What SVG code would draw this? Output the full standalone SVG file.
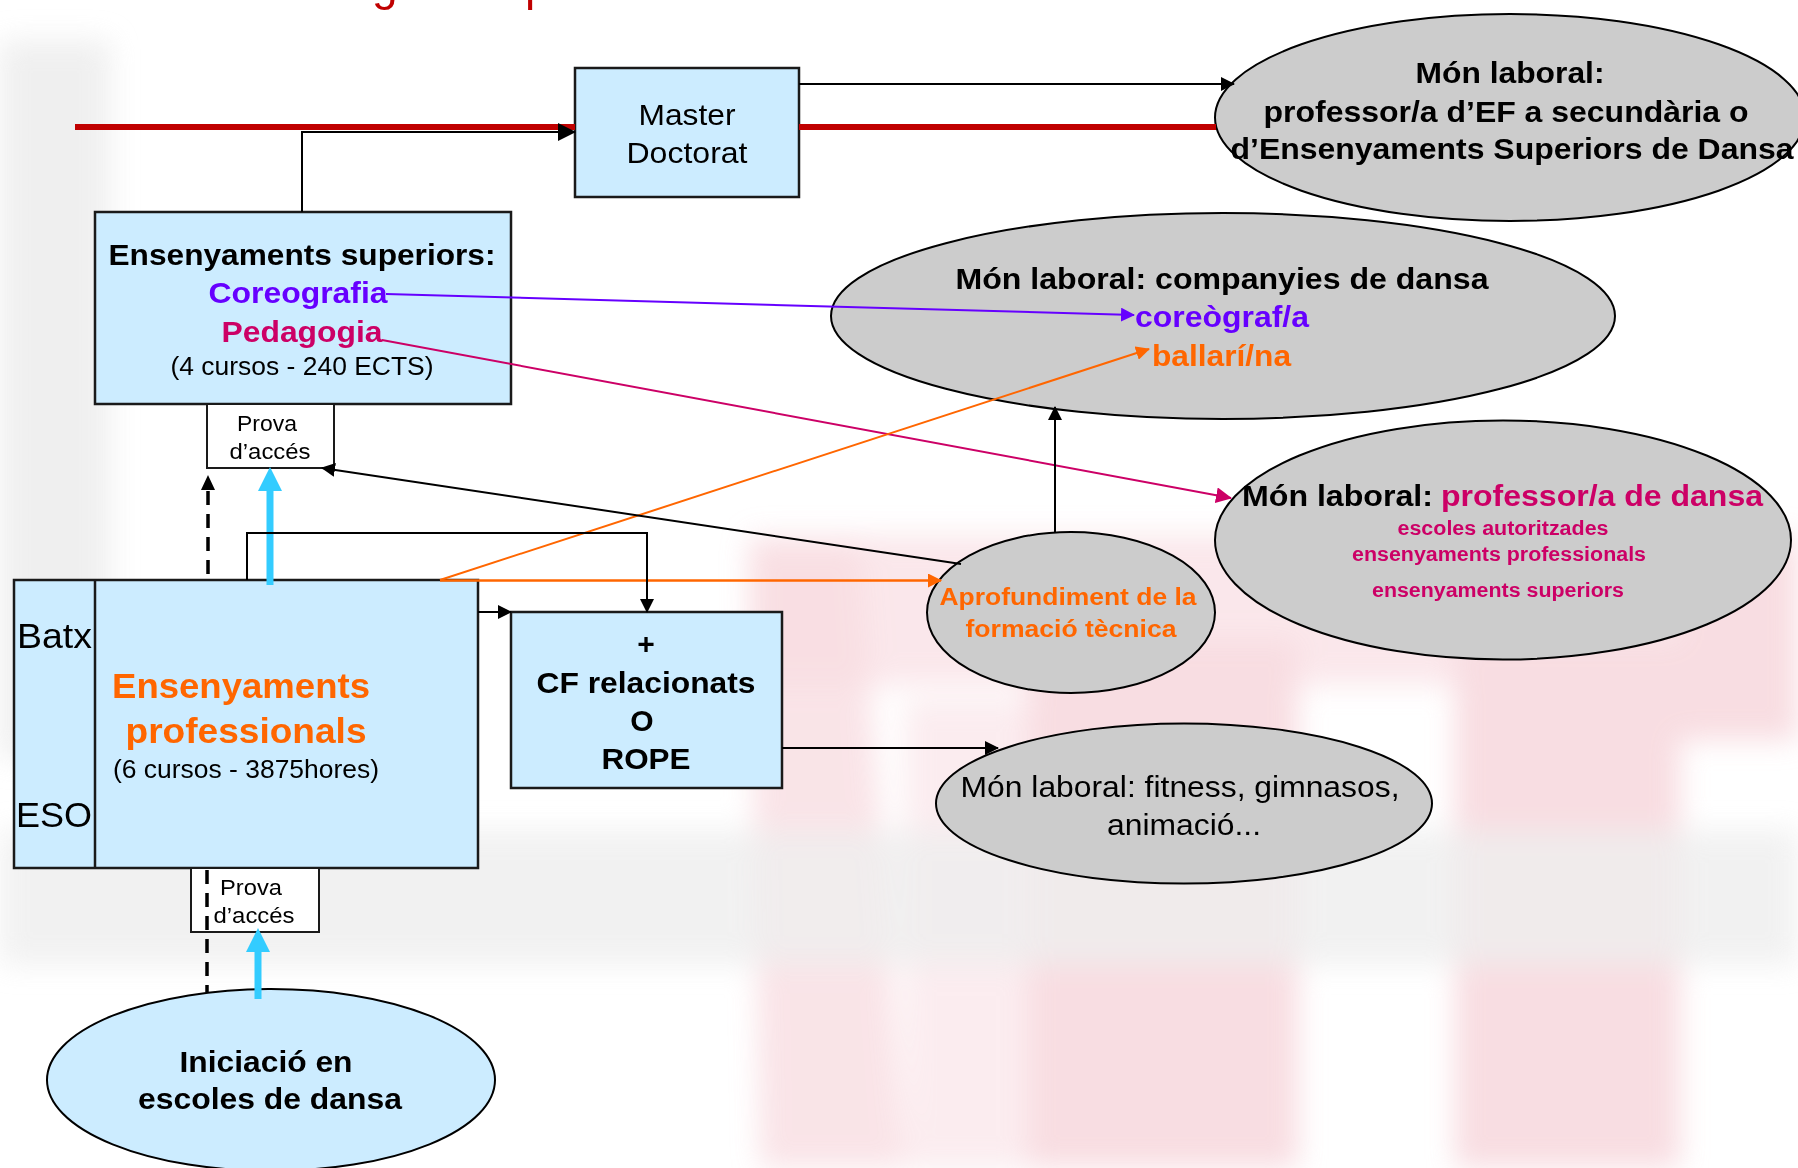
<svg xmlns="http://www.w3.org/2000/svg" width="1798" height="1168" viewBox="0 0 1798 1168">
<style>
text{font-family:"Liberation Sans",Arial,sans-serif;}
.b{font-weight:bold;}
.box{fill:#CCECFF;stroke:#1a1a1a;stroke-width:2.5;}
.ell{fill:#CCCCCC;stroke:#000;stroke-width:2;}
.bell{fill:#CCECFF;stroke:#000;stroke-width:2;}
.prova{fill:#fff;stroke:#1a1a1a;stroke-width:2;}
.k{stroke:#000;stroke-width:2;fill:none;}
.dash{stroke:#000;stroke-width:3.5;fill:none;stroke-dasharray:14 9;}
.cy{stroke:#33CCFF;stroke-width:7;fill:none;}
.mid{text-anchor:middle;}
.pk{fill:#F6D2D8;}
</style>
<defs>
<filter id="blur" x="-20%" y="-20%" width="140%" height="140%"><feGaussianBlur stdDeviation="14"/></filter>
<marker id="ak" markerUnits="userSpaceOnUse" markerWidth="14" markerHeight="14" refX="13" refY="7" orient="auto"><path d="M0,0 L14,7 L0,14 z" fill="#000"/></marker>
<marker id="akL" markerUnits="userSpaceOnUse" markerWidth="18" markerHeight="18" refX="17" refY="9" orient="auto"><path d="M0,0 L18,9 L0,18 z" fill="#000"/></marker>
<marker id="ap" markerUnits="userSpaceOnUse" markerWidth="14" markerHeight="14" refX="13" refY="7" orient="auto"><path d="M0,0 L14,7 L0,14 z" fill="#6600FF"/></marker>
<marker id="am" markerUnits="userSpaceOnUse" markerWidth="16" markerHeight="16" refX="15" refY="8" orient="auto"><path d="M0,0 L16,8 L0,16 z" fill="#CC0066"/></marker>
<marker id="ao" markerUnits="userSpaceOnUse" markerWidth="14" markerHeight="14" refX="13" refY="7" orient="auto"><path d="M0,0 L14,7 L0,14 z" fill="#FF6600"/></marker>
<marker id="ac" markerUnits="userSpaceOnUse" markerWidth="24" markerHeight="24" refX="0" refY="12" orient="auto"><path d="M0,0 L24,12 L0,24 z" fill="#33CCFF"/></marker>
</defs>

<g id="background">
<rect width="1798" height="1168" fill="#fff"/>
<g filter="url(#blur)" opacity="0.75">
<rect x="0" y="40" width="110" height="720" fill="#EAEAEA"/>
<rect x="749" y="535" width="1049" height="150" class="pk" opacity="0.7"/>
<path d="M749,546 L860,546 L905,1168 L760,1168 z" class="pk" opacity="0.8"/>
<rect x="1028" y="640" width="270" height="528" class="pk"/>
<rect x="1455" y="640" width="225" height="528" class="pk"/>
<rect x="1680" y="540" width="118" height="200" class="pk"/>
<rect x="905" y="700" width="123" height="468" class="pk" opacity="0.55"/>
<rect x="0" y="830" width="1798" height="135" fill="#E9E9E9" opacity="0.8"/>
</g>
</g>

<g id="title-fragment" fill="#C00000" font-size="46">
<text x="372" y="0">g</text>
<text x="525" y="0">p</text>
</g>

<g id="master">
<rect class="box" x="575" y="68" width="224" height="129"/>
<text class="mid" x="687" y="125" font-size="30" textLength="97" lengthAdjust="spacingAndGlyphs">Master</text>
<text class="mid" x="687" y="163" font-size="30" textLength="121" lengthAdjust="spacingAndGlyphs">Doctorat</text>
</g>

<g id="mon-ef">
<ellipse class="ell" cx="1510" cy="117.5" rx="295" ry="103.5"/>
<text class="b mid" x="1510" y="83" font-size="30" textLength="189" lengthAdjust="spacingAndGlyphs">Món laboral:</text>
<text class="b mid" x="1506" y="122" font-size="30" textLength="485" lengthAdjust="spacingAndGlyphs">professor/a d’EF a secundària o</text>
<text class="b mid" x="1512" y="159" font-size="30" textLength="563" lengthAdjust="spacingAndGlyphs">d’Ensenyaments Superiors de Dansa</text>
</g>

<g id="ens-superiors">
<rect class="box" x="95" y="212" width="416" height="192"/>
<text class="b mid" x="302" y="265" font-size="30" textLength="387" lengthAdjust="spacingAndGlyphs">Ensenyaments superiors:</text>
<text class="b mid" x="298" y="303" font-size="30" fill="#6600FF" textLength="179" lengthAdjust="spacingAndGlyphs">Coreografia</text>
<text class="b mid" x="302" y="342" font-size="30" fill="#CC0066" textLength="161" lengthAdjust="spacingAndGlyphs">Pedagogia</text>
<text class="mid" x="302" y="375" font-size="25" textLength="263" lengthAdjust="spacingAndGlyphs">(4 cursos - 240 ECTS)</text>
</g>

<g id="prova-sup">
<rect class="prova" x="207" y="404" width="127" height="64"/>
<text class="mid" x="267" y="431" font-size="22" textLength="60" lengthAdjust="spacingAndGlyphs">Prova</text>
<text class="mid" x="270" y="459" font-size="22" textLength="81" lengthAdjust="spacingAndGlyphs">d’accés</text>
</g>

<g id="mon-companyies">
<ellipse class="ell" cx="1223" cy="316" rx="392" ry="103"/>
<text class="b mid" x="1222" y="289" font-size="30" textLength="533" lengthAdjust="spacingAndGlyphs">Món laboral: companyies de dansa</text>
<text class="b" x="1135" y="327" font-size="30" fill="#6600FF" textLength="174" lengthAdjust="spacingAndGlyphs">coreògraf/a</text>
<text class="b" x="1152" y="366" font-size="30" fill="#FF6600" textLength="139" lengthAdjust="spacingAndGlyphs">ballarí/na</text>
</g>

<g id="mon-professor">
<ellipse class="ell" cx="1503" cy="540" rx="288" ry="119.5"/>
<text class="b" x="1242" y="506" font-size="30" textLength="191" lengthAdjust="spacingAndGlyphs">Món laboral:</text>
<text class="b" x="1441" y="506" font-size="30" fill="#CC0066" textLength="322" lengthAdjust="spacingAndGlyphs">professor/a de dansa</text>
<text class="b mid" x="1503" y="535" font-size="20" fill="#CC0066" textLength="211" lengthAdjust="spacingAndGlyphs">escoles autoritzades</text>
<text class="b mid" x="1499" y="561" font-size="20" fill="#CC0066" textLength="294" lengthAdjust="spacingAndGlyphs">ensenyaments professionals</text>
<text class="b mid" x="1498" y="597" font-size="20" fill="#CC0066" textLength="252" lengthAdjust="spacingAndGlyphs">ensenyaments superiors</text>
</g>

<g id="aprofundiment">
<ellipse class="ell" cx="1071" cy="612.5" rx="144" ry="80.5"/>
<text class="b mid" x="1068" y="605" font-size="24" fill="#FF6600" textLength="257" lengthAdjust="spacingAndGlyphs">Aprofundiment de la</text>
<text class="b mid" x="1071" y="637" font-size="24" fill="#FF6600" textLength="211" lengthAdjust="spacingAndGlyphs">formació tècnica</text>
</g>

<g id="ens-professionals">
<rect class="box" x="14" y="580" width="464" height="288"/>
<line x1="95" y1="580" x2="95" y2="868" stroke="#1a1a1a" stroke-width="2.5"/>
<text x="17" y="648" font-size="35" textLength="75" lengthAdjust="spacingAndGlyphs">Batx</text>
<text x="16" y="827" font-size="35" textLength="76" lengthAdjust="spacingAndGlyphs">ESO</text>
<text class="b mid" x="241" y="698" font-size="35" fill="#FF6600" textLength="258" lengthAdjust="spacingAndGlyphs">Ensenyaments</text>
<text class="b mid" x="246" y="743" font-size="35" fill="#FF6600" textLength="241" lengthAdjust="spacingAndGlyphs">professionals</text>
<text class="mid" x="246" y="778" font-size="25" textLength="266" lengthAdjust="spacingAndGlyphs">(6 cursos - 3875hores)</text>
</g>

<g id="cf-rope">
<rect class="box" x="511" y="612" width="271" height="176"/>
<text class="b mid" x="646" y="654" font-size="30">+</text>
<text class="b mid" x="646" y="693" font-size="30" textLength="219" lengthAdjust="spacingAndGlyphs">CF relacionats</text>
<text class="b mid" x="642" y="731" font-size="30">O</text>
<text class="b mid" x="646" y="769" font-size="30" textLength="89" lengthAdjust="spacingAndGlyphs">ROPE</text>
</g>

<g id="mon-fitness">
<ellipse class="ell" cx="1184" cy="803.5" rx="248" ry="80"/>
<text class="mid" x="1180" y="797" font-size="30" textLength="439" lengthAdjust="spacingAndGlyphs">Món laboral: fitness, gimnasos,</text>
<text class="mid" x="1184" y="835" font-size="30" textLength="154" lengthAdjust="spacingAndGlyphs">animació...</text>
</g>

<g id="prova-prof">
<rect class="prova" x="191" y="868" width="128" height="64"/>
<text class="mid" x="251" y="895" font-size="22" textLength="62" lengthAdjust="spacingAndGlyphs">Prova</text>
<text class="mid" x="254" y="923" font-size="22" textLength="81" lengthAdjust="spacingAndGlyphs">d’accés</text>
</g>

<g id="iniciacio">
<ellipse class="bell" cx="271" cy="1080" rx="224" ry="91"/>
<text class="b mid" x="266" y="1072" font-size="30" textLength="173" lengthAdjust="spacingAndGlyphs">Iniciació en</text>
<text class="b mid" x="270" y="1109" font-size="30" textLength="264" lengthAdjust="spacingAndGlyphs">escoles de dansa</text>
</g>

<g id="connectors">
<path d="M75,127 H575" stroke="#C00000" stroke-width="6" fill="none"/>
<path d="M799,127 H1216" stroke="#C00000" stroke-width="6" fill="none"/>
<path class="k" d="M302,212 V132 H575" stroke-width="2.5" marker-end="url(#akL)"/>
<path class="k" d="M799,84 H1234" marker-end="url(#ak)"/>
<path d="M386,294 L1134,315" stroke="#6600FF" stroke-width="2" fill="none" marker-end="url(#ap)"/>
<path d="M382,340 L1231,498" stroke="#CC0066" stroke-width="2" fill="none" marker-end="url(#am)"/>
<path d="M440,580 L1149,349" stroke="#FF6600" stroke-width="2" fill="none" marker-end="url(#ao)"/>
<path d="M440,580.5 H941" stroke="#FF6600" stroke-width="2.5" fill="none" marker-end="url(#ao)"/>
<path class="k" d="M961,564 L322,468" marker-end="url(#ak)"/>
<path class="dash" d="M208,574 V490"/>
<path d="M201,490 L208,475 L215,490 z" fill="#000"/>
<path class="cy" d="M270,585 V491" marker-end="url(#ac)"/>
<path class="k" d="M247,580 V533 H647 V612" marker-end="url(#ak)"/>
<path class="k" d="M478,612 H511" marker-end="url(#ak)"/>
<path class="k" d="M782,748 H998" marker-end="url(#ak)"/>
<path class="k" d="M1055,533 V407" marker-end="url(#ak)"/>
<path class="dash" d="M207,870 V992"/>
<path class="cy" d="M258,999 V952" marker-end="url(#ac)"/>
</g>
</svg>
